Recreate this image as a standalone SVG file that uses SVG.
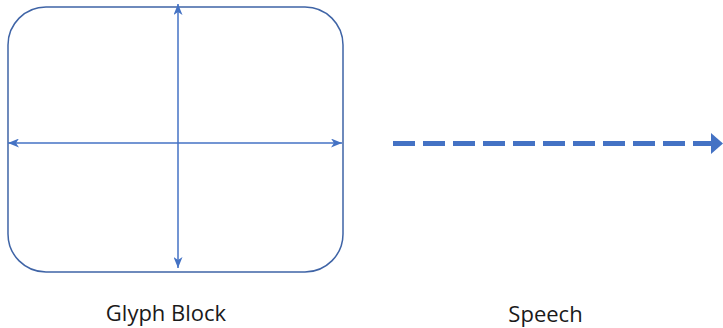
<svg xmlns="http://www.w3.org/2000/svg" width="723" height="328" viewBox="0 0 723 328">
<style>
.box{fill:#ffffff;stroke:#3F64A6;stroke-width:1.5}
.dim{stroke:#4472C4;stroke-width:1.5;fill:none}
.flow{stroke:#4472C4;stroke-width:5;fill:none;stroke-dasharray:22 8}
.lbl{font-family:"Open Sans","Liberation Sans",sans-serif;font-size:22px;fill:#1a1a1a;text-anchor:middle}
</style>
<defs>
<marker id="sa" viewBox="0 0 11 9" refX="11" refY="4.5" markerWidth="11" markerHeight="9" markerUnits="userSpaceOnUse" orient="auto-start-reverse">
<path d="M0,0 L11,4.5 L0,9 L3,4.5 Z" fill="#4472C4"/>
</marker>
</defs>
<g id="glyph-block">
<rect class="box" x="8" y="7" width="335" height="265" rx="38" ry="38"/>
<text class="lbl" x="166" y="321">Glyph Block</text>
</g>
<g id="speech">
<text class="lbl" x="545.5" y="322">Speech</text>
</g>
<g id="connectors">
<line class="dim" x1="178" y1="4" x2="178" y2="268" marker-start="url(#sa)" marker-end="url(#sa)"/>
<line class="dim" x1="8" y1="143" x2="342" y2="143" marker-start="url(#sa)" marker-end="url(#sa)"/>
<line class="flow" x1="393" y1="143.5" x2="711" y2="143.5"/>
<path d="M711,133 L723,143.5 L711,154 Z" fill="#4472C4"/>
</g>
</svg>
